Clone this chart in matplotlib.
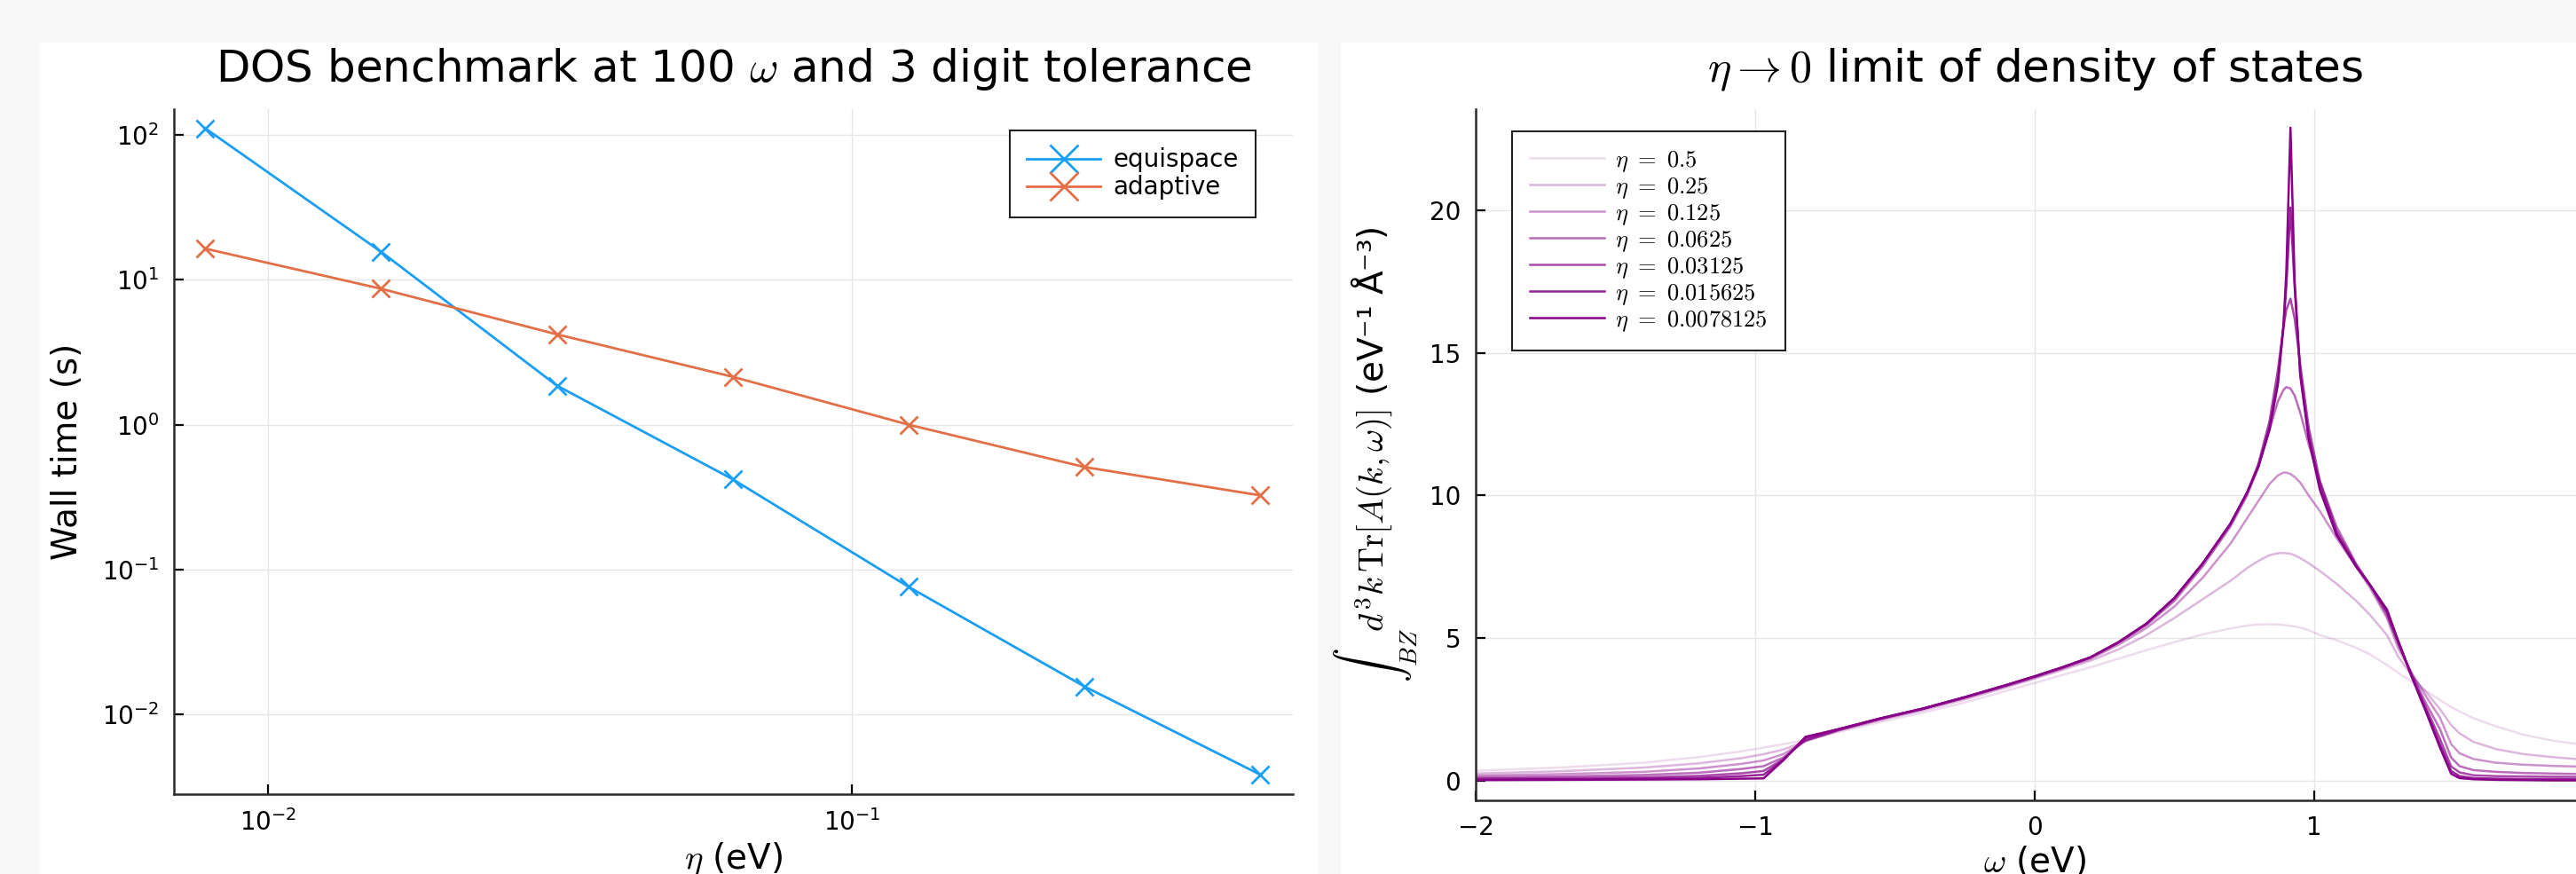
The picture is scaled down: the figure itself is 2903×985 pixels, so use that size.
import matplotlib
matplotlib.use('Agg')
import numpy as np
import matplotlib.pyplot as plt
import matplotlib.ticker as ticker
from matplotlib.patches import Rectangle

# ---- left panel: wall time vs eta ----
eta = [0.0078125, 0.015625, 0.03125, 0.0625, 0.125, 0.25, 0.5]
t_equispace = [111.0, 15.6, 1.86, 0.42, 0.076, 0.0156, 0.00384]
t_adaptive = [16.4, 8.67, 4.2, 2.14, 1.0, 0.51, 0.325]

# ---- right panel: DOS curves ----
omega = [-2.0, -1.7, -1.4, -1.2, -1.05, -0.97, -0.9, -0.82, -0.7, -0.55, -0.4, -0.25,
         -0.1, 0.0, 0.1, 0.2, 0.3, 0.4, 0.5, 0.6, 0.7, 0.76, 0.8, 0.84,
         0.87, 0.89, 0.9, 0.915, 0.93, 0.95, 0.98, 1.02, 1.08, 1.15, 1.2, 1.26,
         1.3, 1.35, 1.4, 1.45, 1.49, 1.52, 1.57, 1.65, 1.75, 1.85, 2.0]
eta_labels = ['0.5', '0.25', '0.125', '0.0625', '0.03125', '0.015625', '0.0078125']
dos_0p5 = [0.34, 0.45, 0.62, 0.82, 1.02, 1.15, 1.27, 1.42, 1.7, 2.05, 2.38, 2.73,
           3.15, 3.42, 3.7, 3.97, 4.27, 4.57, 4.85, 5.12, 5.33, 5.43, 5.47, 5.48,
           5.47, 5.45, 5.44, 5.42, 5.4, 5.36, 5.27, 5.1, 4.92, 4.65, 4.42, 4.05,
           3.78, 3.46, 3.14, 2.82, 2.57, 2.42, 2.18, 1.9, 1.6, 1.4, 1.2]
dos_0p25 = [0.24, 0.32, 0.45, 0.6, 0.78, 0.92, 1.08, 1.38, 1.75, 2.12, 2.46, 2.84,
            3.27, 3.57, 3.88, 4.2, 4.6, 5.1, 5.7, 6.35, 7.0, 7.45, 7.7, 7.9,
            7.97, 7.98, 7.97, 7.95, 7.9, 7.8, 7.62, 7.35, 6.9, 6.3, 5.8, 5.1,
            4.35, 3.65, 3.1, 2.5, 1.94, 1.65, 1.35, 1.1, 0.92, 0.82, 0.7]
dos_0p125 = [0.17, 0.22, 0.3, 0.42, 0.58, 0.7, 0.92, 1.38, 1.76, 2.15, 2.5, 2.89,
             3.31, 3.61, 3.93, 4.27, 4.76, 5.35, 6.1, 7.1, 8.3, 9.2, 9.8, 10.4,
             10.7, 10.8, 10.8, 10.75, 10.65, 10.45, 10.0, 9.45, 8.5, 7.5, 6.75, 5.7,
             4.65, 3.75, 2.95, 2.2, 1.27, 0.95, 0.75, 0.62, 0.55, 0.51, 0.47]
dos_0p0625 = [0.11, 0.14, 0.19, 0.27, 0.4, 0.5, 0.8, 1.4, 1.78, 2.17, 2.51, 2.91,
              3.34, 3.64, 3.96, 4.31, 4.83, 5.45, 6.3, 7.5, 8.9, 10.0, 11.0, 12.3,
              13.3, 13.7, 13.8, 13.75, 13.5, 12.9, 11.8, 10.5, 8.9, 7.6, 6.85, 5.8,
              4.8, 3.7, 2.7, 1.8, 0.8, 0.5, 0.36, 0.3, 0.26, 0.24, 0.22]
dos_0p03125 = [0.06, 0.08, 0.11, 0.16, 0.25, 0.33, 0.74, 1.45, 1.8, 2.18, 2.52, 2.92,
               3.35, 3.65, 3.97, 4.32, 4.85, 5.5, 6.4, 7.6, 9.0, 10.1, 11.1, 12.6,
               14.4, 15.9, 16.5, 16.9, 16.2, 14.6, 12.4, 10.5, 8.75, 7.55, 6.85, 5.9,
               4.88, 3.65, 2.55, 1.45, 0.49, 0.28, 0.18, 0.15, 0.14, 0.13, 0.12]
dos_0p015625 = [0.03, 0.04, 0.06, 0.09, 0.15, 0.2, 0.71, 1.5, 1.8, 2.18, 2.52, 2.92,
                3.35, 3.65, 3.97, 4.32, 4.85, 5.5, 6.4, 7.6, 9.0, 10.1, 11.0, 12.4,
                14.0, 15.9, 17.3, 20.1, 17.3, 14.3, 12.1, 10.3, 8.65, 7.5, 6.85, 5.95,
                4.9, 3.62, 2.45, 1.25, 0.33, 0.15, 0.08, 0.06, 0.05, 0.05, 0.04]
dos_0p0078 = [0.01, 0.02, 0.03, 0.04, 0.06, 0.07, 0.7, 1.53, 1.8, 2.18, 2.52, 2.92,
              3.35, 3.65, 3.97, 4.32, 4.85, 5.5, 6.4, 7.6, 9.0, 10.1, 11.0, 12.3,
              13.9, 16.0, 17.8, 22.9, 17.5, 14.2, 12.0, 10.2, 8.6, 7.5, 6.85, 6.0,
              4.9, 3.6, 2.4, 1.15, 0.23, 0.08, 0.04, 0.02, 0.01, 0.0, 0.0]
dos_curves = [dos_0p5, dos_0p25, dos_0p125, dos_0p0625, dos_0p03125, dos_0p015625, dos_0p0078]

plt.rcParams.update({
    'font.family': 'DejaVu Sans',
    'axes.edgecolor': '#2b2b2b',
    'axes.linewidth': 1.8,
    'xtick.direction': 'in',
    'ytick.direction': 'in',
    'xtick.major.size': 8,
    'ytick.major.size': 8,
    'xtick.major.width': 1.6,
    'ytick.major.width': 1.6,
    'xtick.labelsize': 20,
    'ytick.labelsize': 20,
})

W, H = 2903, 985
fig = plt.figure(figsize=(W / 100, H / 100), dpi=100, facecolor='#f8f8f8')

# white panels behind each subplot
fig.patches.append(Rectangle((45 / W, 0), 1441 / W, 937 / H, transform=fig.transFigure,
                             facecolor='white', edgecolor='none', zorder=-5))
fig.patches.append(Rectangle((1511 / W, 0), 1392 / W, 937 / H, transform=fig.transFigure,
                             facecolor='white', edgecolor='none', zorder=-5))

ax1 = fig.add_axes([196 / W, 90 / H, 1261 / W, 772 / H])
ax2 = fig.add_axes([1663 / W, 83 / H, 1260 / W, 779 / H])

for ax in (ax1, ax2):
    ax.set_facecolor('none')
    ax.spines['top'].set_visible(False)
    ax.spines['right'].set_visible(False)
    ax.grid(True, color='#e6e6e6', linewidth=1.0)
    ax.set_axisbelow(True)

# ---- left panel ----
ax1.plot(eta, t_equispace, color='#1a9ff5', lw=2.0, marker='x', ms=15, mew=2.0, label='equispace')
ax1.plot(eta, t_adaptive, color='#e36f47', lw=2.0, marker='x', ms=15, mew=2.0, label='adaptive')
ax1.set_xscale('log')
ax1.set_yscale('log')
ax1.set_xlim(10 ** -2.161, 10 ** -0.2447)
ax1.set_ylim(10 ** -2.551, 10 ** 2.178)
ax1.xaxis.set_minor_locator(ticker.NullLocator())
ax1.yaxis.set_minor_locator(ticker.NullLocator())
ax1.yaxis.set_major_locator(ticker.LogLocator(base=10, numticks=10))
ax1.tick_params(axis='both', pad=12)
t1 = ax1.set_title(r'DOS benchmark at 100 $\omega$ and 3 digit tolerance', fontsize=36, pad=22)
t1.set_math_fontfamily('cm')
xl1 = ax1.set_xlabel(r'$\eta$ (eV)', fontsize=28, labelpad=4)
xl1.set_math_fontfamily('cm')
ax1.set_ylabel('Wall time (s)', fontsize=28, labelpad=14)
leg1 = ax1.legend(loc='upper right', bbox_to_anchor=(0.9667, 0.9689), borderaxespad=0,
                  fontsize=20, fancybox=False, framealpha=1, edgecolor='#222222',
                  markerscale=1.5, handlelength=3.0, handletextpad=0.5,
                  labelspacing=0.1, borderpad=0.7)
leg1.get_frame().set_linewidth(1.5)

# ---- right panel ----
n = len(dos_curves)
for k, (vals, lab) in enumerate(zip(dos_curves, eta_labels)):
    ax2.plot(omega, vals, color='#880088', alpha=(k + 1) / n, lw=1.8,
             label=r'$\eta\ =\ %s$' % lab)
ax2.set_xlim(-2, 2)
ax2.set_ylim(-0.7, 23.55)
ax2.xaxis.set_major_locator(ticker.MultipleLocator(1))
ax2.yaxis.set_major_locator(ticker.MultipleLocator(5))
ax2.tick_params(axis='both', pad=12)
t2 = ax2.set_title(r'$\eta \rightarrow 0$ limit of density of states', fontsize=36, pad=22)
t2.set_math_fontfamily('cm')
xl2 = ax2.set_xlabel(r'$\omega$ (eV)', fontsize=28, labelpad=4)
xl2.set_math_fontfamily('cm')
yl2 = ax2.set_ylabel(r'$\int_{BZ} d^3k\,\mathrm{Tr}[A(k,\omega)]$ (eV⁻¹ Å⁻³)', fontsize=28, labelpad=8)
yl2.set_math_fontfamily('cm')
leg2 = ax2.legend(loc='upper left', bbox_to_anchor=(0.0325, 0.968), borderaxespad=0,
                  fontsize=19, fancybox=False, framealpha=1, edgecolor='#222222',
                  handlelength=3.2, handletextpad=0.45, labelspacing=0.08, borderpad=0.75)
leg2.get_frame().set_linewidth(1.5)
for txt in leg2.get_texts():
    txt.set_math_fontfamily('cm')

plt.savefig('out.png', dpi=100, facecolor=fig.get_facecolor())
